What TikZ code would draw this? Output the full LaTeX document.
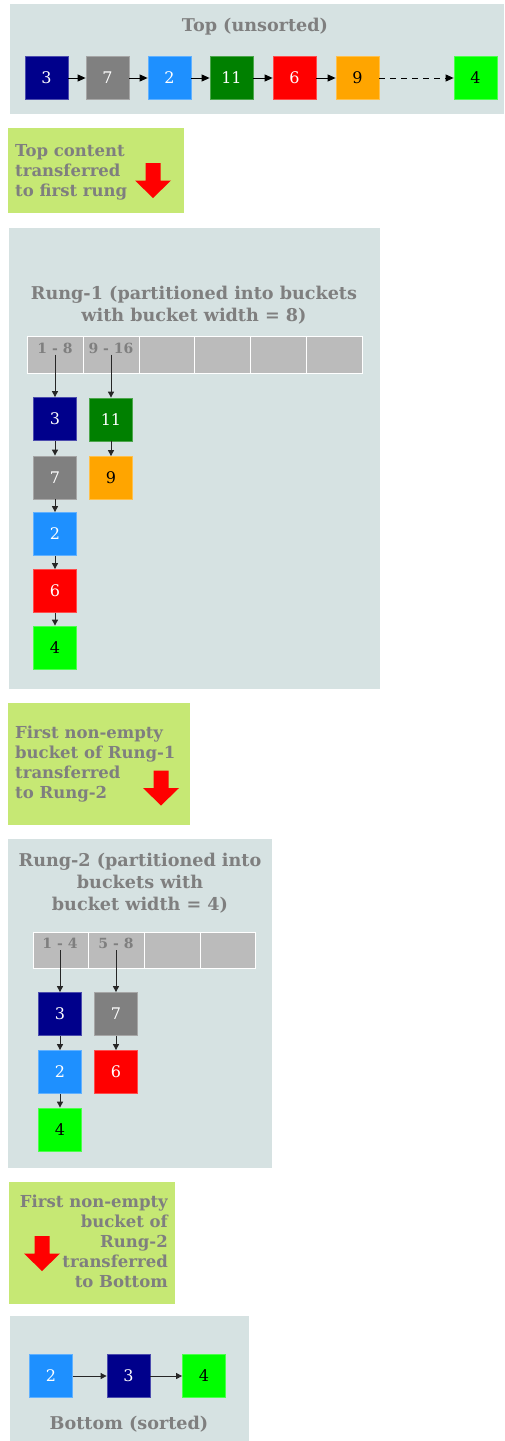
\documentclass[tikz,border=0pt]{standalone}
\usepackage{fontspec}
\setmainfont{DejaVu Serif}
\usetikzlibrary{arrows.meta}

\definecolor{clusterbg}{HTML}{D6E2E2}
\definecolor{notebg}{HTML}{C6E874}
\definecolor{labelgray}{HTML}{7F7F7F}
\definecolor{cellgray}{HTML}{BBBBBB}
\definecolor{cdarkblue}{HTML}{00008B}
\definecolor{cgray}{HTML}{808080}
\definecolor{cdodger}{HTML}{1E90FF}
\definecolor{cgreen}{HTML}{008000}
\definecolor{cred}{HTML}{FF0000}
\definecolor{corange}{HTML}{FFA500}
\definecolor{clime}{HTML}{00FF00}

\tikzset{
  item/.style={minimum width=43pt, minimum height=43pt, inner sep=0pt,
    font=\fontsize{16}{18}\selectfont, line width=0.8pt},
  it3/.style={item, fill=cdarkblue, draw=cdarkblue!70!white, text=white},
  it7/.style={item, fill=cgray, draw=cgray!70!white, text=white},
  it2/.style={item, fill=cdodger, draw=cdodger!70!white, text=white},
  it11/.style={item, fill=cgreen, draw=cgreen!70!white, text=white},
  it6/.style={item, fill=cred, draw=cred!70!white, text=white},
  it9/.style={item, fill=corange, draw=corange!70!white, text=black},
  it4/.style={item, fill=clime, draw=clime!70!white, text=black},
  title/.style={text=labelgray, font=\fontsize{17.6}{22}\selectfont\bfseries, align=center, inner sep=0pt},
  note/.style={text=labelgray, font=\fontsize{16.5}{19.9}\selectfont\bfseries, inner sep=0pt},
  cell/.style={fill=cellgray, draw=white, line width=1pt, minimum height=37pt, inner sep=0pt},
  celllabel/.style={text=labelgray, font=\fontsize{14}{16}\selectfont\bfseries, inner sep=0pt},
  link/.style={line width=0.9pt, -{Triangle[length=8pt, width=7pt]}},
  slink/.style={line width=0.9pt, draw=black!85, -{Triangle[length=6pt, width=6pt]}},
  redarrow/.pic={\fill[cred] (-7.5,-17.5) -- (7.5,-17.5) -- (7.5,0) -- (18,0) -- (0,17.5) -- (-18,0) -- (-7.5,0) -- cycle;}
}

\begin{document}
\begin{tikzpicture}[x=1pt, y=-1pt]
\useasboundingbox (0,0) rectangle (504,1441);

% ---------------- Top ----------------
\fill[clusterbg] (10,4) rectangle (504,114);
\node[title] (toptitle) at (255,27) {Top (unsorted)};
\node[it3]  (t3)  at (46.5,78)  {3};
\node[it7]  (t7)  at (107.5,78) {7};
\node[it2]  (t2)  at (169.5,78) {2};
\node[it11] (t11) at (231.5,78) {11};
\node[it6]  (t6)  at (294.5,78) {6};
\node[it9]  (t9)  at (357.5,78) {9};
\node[it4]  (t4)  at (475.5,78) {4};
\draw[link] (t3) -- (t7);
\draw[link] (t7) -- (t2);
\draw[link] (t2) -- (t11);
\draw[link] (t11) -- (t6);
\draw[link] (t6) -- (t9);
\draw[link, dash pattern=on 6pt off 5pt] (t9) -- (t4);

% ---------------- note 1 ----------------
\fill[notebg] (8,128) rectangle (184,213);
\node[note, anchor=north west, align=left] (note1) at (15,144) {Top content\\transferred\\to first rung};
\pic at (153,180.5) {redarrow};

% ---------------- Rung-1 ----------------
\fill[clusterbg] (9,228) rectangle (380,689);
\node[title] (r1title) at (194,305) {Rung-1 (partitioned into buckets\\with bucket width = 8)};
\foreach \i/\x in {1/55.8, 2/111.5, 3/167.2, 4/222.8, 5/278.5, 6/334.2}
  \node[cell, minimum width=55.7pt] (ra\i) at (\x,354.5) {};
\node[celllabel] (ra1lab) at (55,348) {1 - 8};
\node[celllabel] (ra2lab) at (111,348) {9 - 16};
\node[it3]  (a3)  at (55,419)    {3};
\node[it7]  (a7)  at (55,477.5)  {7};
\node[it2]  (a2)  at (55,534)    {2};
\node[it6]  (a6)  at (55,591)    {6};
\node[it4]  (a4)  at (55,647.5)  {4};
\node[it11] (a11) at (111,419.5) {11};
\node[it9]  (a9)  at (111,478)   {9};
\draw[slink] (a3 |- ra1.center) -- (a3);
\draw[slink] (a11 |- ra2.center) -- (a11);
\draw[slink] (a3) -- (a7);
\draw[slink] (a7) -- (a2);
\draw[slink] (a2) -- (a6);
\draw[slink] (a6) -- (a4);
\draw[slink] (a11) -- (a9);

% ---------------- note 2 ----------------
\fill[notebg] (8,703) rectangle (190,825);
\node[note, anchor=north west, align=left] (note2) at (15,726) {First non-empty\\bucket of Rung-1\\transferred\\to Rung-2};
\pic at (161,788) {redarrow};

% ---------------- Rung-2 ----------------
\fill[clusterbg] (8,839) rectangle (272,1168);
\node[title] (r2title) at (140,883) {Rung-2 (partitioned into\\buckets with\\bucket width = 4)};
\foreach \i/\x in {1/60.9, 2/116.6, 3/172.4, 4/228.1}
  \node[cell, minimum width=55.75pt, minimum height=36pt] (rb\i) at (\x,950) {};
\node[celllabel] (rb1lab) at (60,943) {1 - 4};
\node[celllabel] (rb2lab) at (116,943) {5 - 8};
\node[it3] (b3) at (60,1014)   {3};
\node[it2] (b2) at (60,1072)   {2};
\node[it4] (b4) at (60,1129.5) {4};
\node[it7] (b7) at (116,1014)  {7};
\node[it6] (b6) at (116,1072)  {6};
\draw[slink] (b3 |- rb1.center) -- (b3);
\draw[slink] (b7 |- rb2.center) -- (b7);
\draw[slink] (b3) -- (b2);
\draw[slink] (b2) -- (b4);
\draw[slink] (b7) -- (b6);

% ---------------- note 3 ----------------
\fill[notebg] (9,1182) rectangle (175,1304);
\node[note, anchor=north east, align=right] (note3) at (168,1195) {First non-empty\\bucket of\\Rung-2\\transferred\\to Bottom};
\pic at (42,1253.5) {redarrow};

% ---------------- Bottom ----------------
\fill[clusterbg] (10,1316) rectangle (249,1441);
\node[it2] (c2) at (51,1376)    {2};
\node[it3] (c3) at (128.5,1376) {3};
\node[it4] (c4) at (204,1376)   {4};
\draw[slink] (c2) -- (c3);
\draw[slink] (c3) -- (c4);
\node[title] (bottitle) at (129,1424) {Bottom (sorted)};
\end{tikzpicture}
\end{document}
